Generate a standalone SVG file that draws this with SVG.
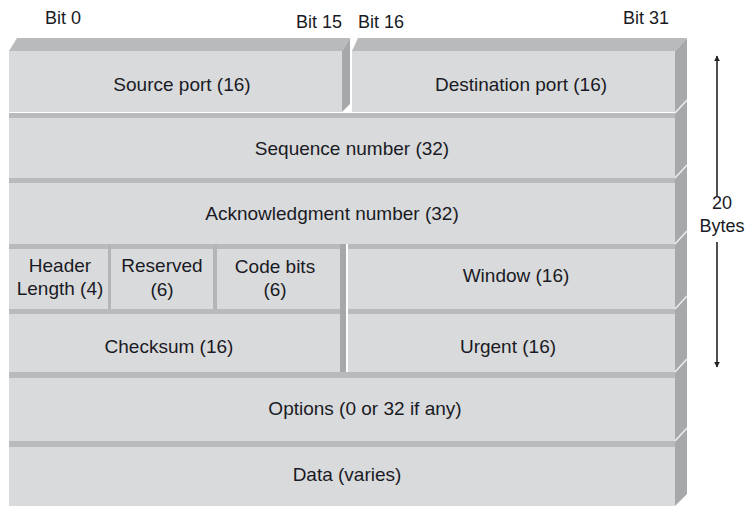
<svg xmlns="http://www.w3.org/2000/svg" width="746" height="506" viewBox="0 0 746 506">
<style>
.face{fill:#d9dadc}
.strip{fill:#b9babc}
.side{fill:#a7a8ab}
.div{stroke:#eeeeef;stroke-width:1.5;fill:none}
.sep{fill:#b4b5b7}
text{font-family:"Liberation Sans",Arial,sans-serif;fill:#1a1a24;text-anchor:middle}
.lbl{font-size:19px}
.bit{font-size:18px}
.conn{stroke:#222;stroke-width:1.6;fill:none}
</style>
<defs>
<marker id="ah" viewBox="0 0 10 10" refX="9" refY="5" markerWidth="6" markerHeight="6" orient="auto-start-reverse" markerUnits="userSpaceOnUse">
<path d="M0,0 L10,5 L0,10 z" fill="#222"/>
</marker>
</defs>
<rect width="746" height="506" fill="#ffffff"/>

<g id="bit-labels">
<text class="bit" x="63" y="24">Bit 0</text>
<text class="bit" x="342" y="28" style="text-anchor:end">Bit 15</text>
<text class="bit" x="358" y="28" style="text-anchor:start">Bit 16</text>
<text class="bit" x="646" y="24">Bit 31</text>
</g>

<g id="stack-side">
<polygon class="side" points="675,51 687,38 687,494 675,506"/>
<line class="div" x1="675" y1="113" x2="687" y2="100"/>
<line class="div" x1="675" y1="178" x2="687" y2="165"/>
<line class="div" x1="675" y1="244" x2="687" y2="231"/>
<line class="div" x1="675" y1="309" x2="687" y2="296"/>
<line class="div" x1="675" y1="372" x2="687" y2="359"/>
<line class="div" x1="675" y1="441" x2="687" y2="428"/>
</g>

<g id="source-port">
<polygon class="strip" points="9,51 17,38 350,38 342,51"/>
<polygon class="side" points="342,51 350,38 350,104 342,112"/>
<rect class="face" x="9" y="51" width="333" height="61"/>
<text class="lbl" x="182" y="91">Source port (16)</text>
</g>

<g id="destination-port">
<polygon class="strip" points="352,51 358,38 687,38 675,51"/>
<rect class="face" x="352" y="51" width="323" height="61"/>
<text class="lbl" x="521" y="91">Destination port (16)</text>
</g>

<g id="sequence-number">
<rect class="strip" x="9" y="113" width="666" height="5"/>
<rect class="face" x="9" y="118" width="666" height="60"/>
<text class="lbl" x="352" y="155">Sequence number (32)</text>
</g>

<g id="acknowledgment-number">
<rect class="strip" x="9" y="178" width="666" height="5"/>
<rect class="face" x="9" y="183" width="666" height="61"/>
<text class="lbl" x="332" y="220">Acknowledgment number (32)</text>
</g>

<g id="left-side-rows-4-5">
<rect class="side" x="340" y="244" width="6" height="128"/>
</g>

<g id="header-length">
<rect class="strip" x="9" y="244" width="99" height="5"/>
<rect class="face" x="9" y="249" width="99" height="60"/>
<rect class="sep" x="108" y="244" width="3" height="65"/>
<text class="lbl" x="60" y="272">Header</text>
<text class="lbl" x="60" y="295">Length (4)</text>
</g>

<g id="reserved">
<rect class="strip" x="111" y="244" width="102" height="5"/>
<rect class="face" x="111" y="249" width="102" height="60"/>
<rect class="sep" x="213" y="244" width="4" height="65"/>
<text class="lbl" x="162" y="272">Reserved</text>
<text class="lbl" x="162" y="296">(6)</text>
</g>

<g id="code-bits">
<rect class="strip" x="217" y="244" width="123" height="5"/>
<rect class="face" x="217" y="249" width="123" height="60"/>
<text class="lbl" x="275" y="273">Code bits</text>
<text class="lbl" x="275" y="296">(6)</text>
</g>

<g id="window">
<rect class="strip" x="348" y="244" width="327" height="5"/>
<rect class="face" x="348" y="249" width="327" height="60"/>
<text class="lbl" x="516" y="282">Window (16)</text>
</g>

<g id="checksum">
<rect class="strip" x="9" y="309" width="331" height="5"/>
<rect class="face" x="9" y="314" width="331" height="58"/>
<text class="lbl" x="169" y="353">Checksum (16)</text>
</g>

<g id="urgent">
<rect class="strip" x="348" y="309" width="327" height="5"/>
<rect class="face" x="348" y="314" width="327" height="58"/>
<text class="lbl" x="508" y="353">Urgent (16)</text>
</g>

<g id="options">
<rect class="strip" x="9" y="372" width="666" height="6"/>
<rect class="face" x="9" y="378" width="666" height="63"/>
<text class="lbl" x="365" y="415">Options (0 or 32 if any)</text>
</g>

<g id="data">
<rect class="strip" x="9" y="441" width="666" height="6"/>
<rect class="face" x="9" y="447" width="666" height="59"/>
<text class="lbl" x="347" y="481">Data (varies)</text>
</g>

<g id="connectors">
<line class="conn" x1="717" y1="196" x2="717" y2="56" marker-end="url(#ah)"/>
<line class="conn" x1="717" y1="242" x2="717" y2="367" marker-end="url(#ah)"/>
</g>

<g id="size-label">
<text class="bit" x="722" y="209">20</text>
<text class="bit" x="722" y="232">Bytes</text>
</g>
</svg>
